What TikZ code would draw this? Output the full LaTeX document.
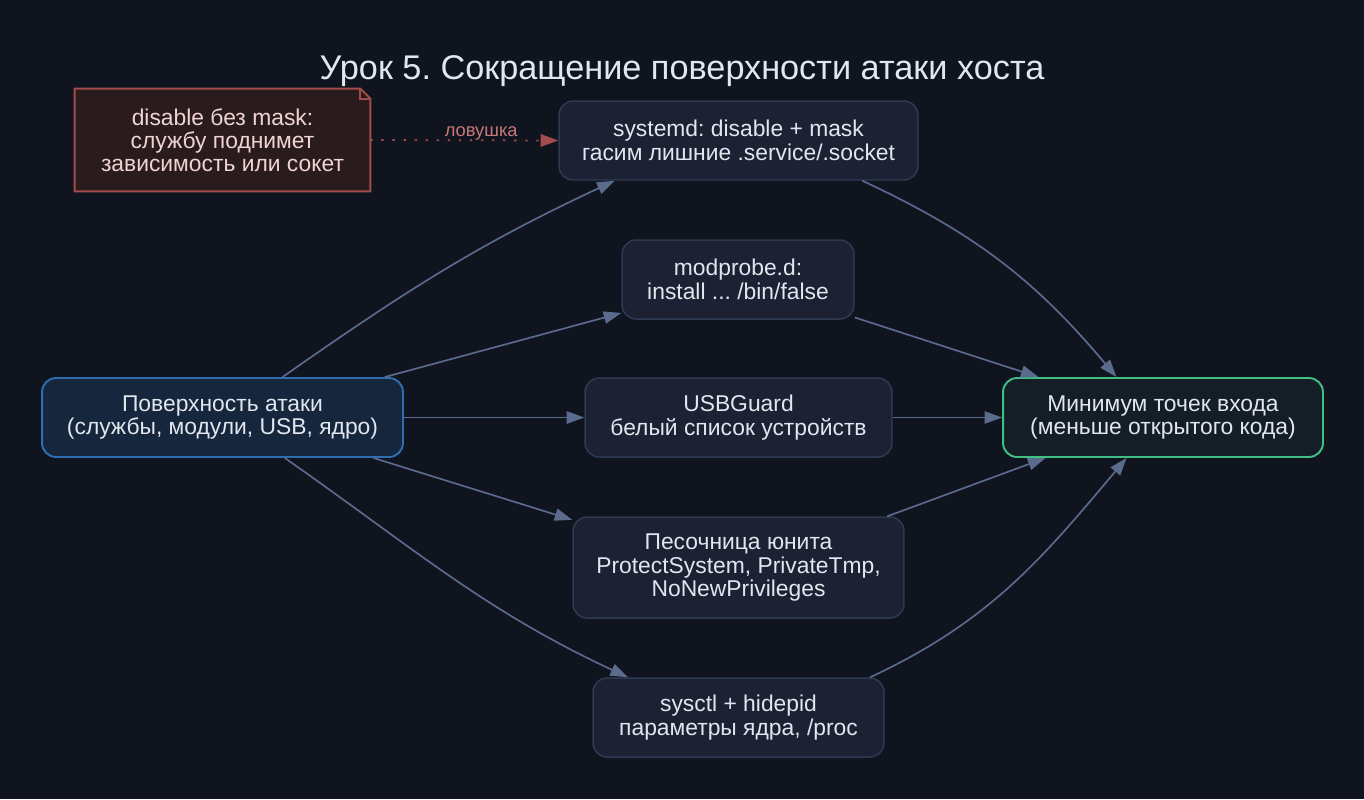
\documentclass[tikz,border=0pt]{standalone}
\usepackage{fontspec}
\setmainfont{Liberation Sans}
\usetikzlibrary{positioning,arrows.meta,calc}
\pgfdeclarelayer{background}
\pgfsetlayers{background,main}
\frenchspacing

\definecolor{bgc}{HTML}{10141F}
\definecolor{boxfill}{HTML}{1C2233}
\definecolor{boxline}{HTML}{2E3A52}
\definecolor{srcfill}{HTML}{15263D}
\definecolor{srcline}{HTML}{2F6DB0}
\definecolor{dstfill}{HTML}{141E27}
\definecolor{dstline}{HTML}{3FBF84}
\definecolor{notefill}{HTML}{2A1B1D}
\definecolor{noteline}{HTML}{A34C4C}
\definecolor{edgec}{HTML}{5B6B8E}
\definecolor{txt}{HTML}{E2E6EE}
\definecolor{notetxt}{HTML}{F0D4D4}
\definecolor{trapc}{HTML}{C87878}

\tikzset{>={Triangle[length=10pt,width=7pt]},
ed/.style={->,draw=edgec,line width=0.95pt},
trap/.style={->,draw=noteline,line width=1pt,dash pattern=on 1.3pt off 5pt},
box/.style={rectangle,rounded corners=8pt,draw=boxline,fill=boxfill,line width=0.85pt,
  text=txt,align=center,inner sep=0pt,minimum height=1.58cm,
  font=\fontsize{13}{13.5}\selectfont},
srcbox/.style={box,draw=srcline,fill=srcfill,line width=1.1pt},
dstbox/.style={box,draw=dstline,fill=dstfill,line width=1.1pt},
notebox/.style={rectangle,inner sep=0pt,align=center,text=notetxt,
  minimum width=5.9cm,minimum height=2.04cm,font=\fontsize{13}{13}\selectfont},
el/.style={font=\fontsize{10.4}{12}\selectfont,text=trapc},
ttl/.style={text=txt,font=\fontsize{19.5}{22}\selectfont},
}

\begin{document}
\begin{tikzpicture}[x=0.02cm,y=-0.02cm]
	\begin{pgfonlayer}{background}
	\fill[bgc] (0,0) rectangle (1364,799);
	\end{pgfonlayer}
	\useasboundingbox (0,0) rectangle (1364,799);

	\node[ttl] (title) at (682,71) {Урок 5. Сокращение поверхности атаки хоста};

	\node[srcbox,minimum width=7.22cm] (src) at (222.5,417.5) {Поверхность атаки\\(службы, модули, USB, ядро)};
	\node[box,minimum width=7.18cm] (sysd) at (738.5,140.5) {systemd: disable + mask\\гасим лишние .service/.socket};
	\node[box,minimum width=4.64cm] (modp) at (738,279.5) {modprobe.d:\\install ... /bin/false};
	\node[box,minimum width=6.14cm] (usbg) at (738.5,417.5) {USBGuard\\белый список устройств};
	\node[box,minimum width=6.62cm,minimum height=2.02cm] (sandb) at (738.5,567.5) {Песочница юнита\\ProtectSystem, PrivateTmp,\\NoNewPrivileges};
	\node[box,minimum width=5.82cm] (sysctl) at (738.5,717.5) {sysctl + hidepid\\параметры ядра, /proc};
	\node[dstbox,minimum width=6.4cm] (dst) at (1163,417.5) {Минимум точек входа\\(меньше открытого кода)};
	\node[notebox] (note) at (222.5,140) {disable без mask:\\службу поднимет\\зависимость или сокет};

	% note with folded corner
	\begin{pgfonlayer}{background}
	\draw[draw=noteline,fill=notefill,line width=1.1pt]
	  (note.north west) -- ($(note.north east)+(-10,0)$) -- ($(note.north east)+(0,10)$)
	  -- (note.south east) -- (note.south west) -- cycle;
	\draw[draw=noteline,line width=1.1pt]
	  ($(note.north east)+(-10,0)$) -- ($(note.north east)+(-10,10)$) -- ($(note.north east)+(0,10)$);
	\end{pgfonlayer}

	\path
	(src.34) edge[ed,out=35,in=205] (sysd.198)
	(src.14.7) edge[ed] (modp.196)
	(src.east) edge[ed] (usbg.west)
	(src.-15.8) edge[ed] (sandb.164)
	(src.-33.6) edge[ed,out=-35,in=155] (sysctl.160.8)
	(sysd.-18) edge[ed,out=-25,in=130] (dst.139.2)
	(modp.-18.5) edge[ed] (dst.162.8)
	(usbg.east) edge[ed] (dst.west)
	(sandb.19) edge[ed] (dst.199.4)
	(sysctl.17.7) edge[ed,out=25,in=230] (dst.228.2)
	(note.east) edge[trap] node[el,pos=0.59,anchor=base,yshift=2pt] {ловушка} (sysd.west)
	;
\end{tikzpicture}
\end{document}
